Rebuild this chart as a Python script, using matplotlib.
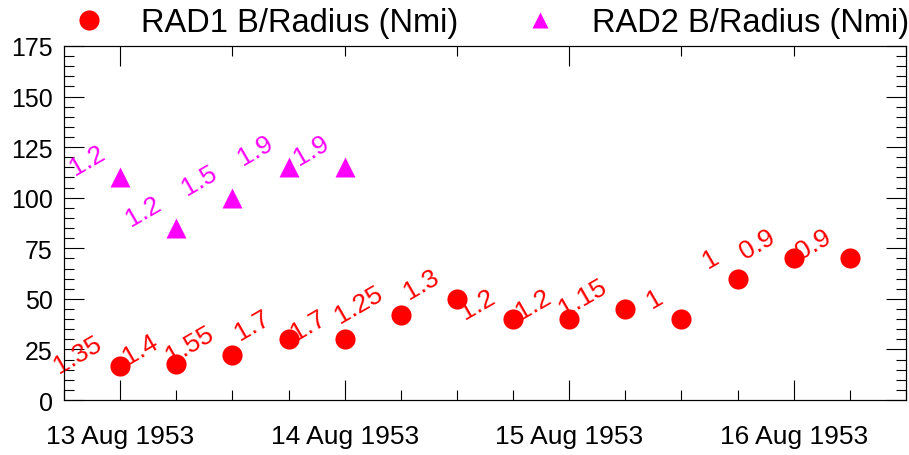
import matplotlib.pyplot as plt
import matplotlib.dates as mdates
from matplotlib.ticker import MultipleLocator
import pandas as pd

# observation times (6-hourly)
times = ['1953-08-13 00:00', '1953-08-13 06:00', '1953-08-13 12:00', '1953-08-13 18:00',
         '1953-08-14 00:00', '1953-08-14 06:00', '1953-08-14 12:00', '1953-08-14 18:00',
         '1953-08-15 00:00', '1953-08-15 06:00', '1953-08-15 12:00', '1953-08-15 18:00',
         '1953-08-16 00:00', '1953-08-16 06:00']
rad1 = [17, 18, 22, 30, 30, 42, 50, 40, 40, 45, 40, 60, 70, 70]
rad1_labels = ['1.35', '1.4', '1.55', '1.7', '1.7', '1.25', '1.3',
               '1.2', '1.2', '1.15', '1', '1', '0.9', '0.9']
rad2_times = times[:5]
rad2 = [110, 85, 100, 115, 115]
rad2_labels = ['1.2', '1.2', '1.5', '1.9', '1.9']

plt.rcParams['font.family'] = 'Liberation Sans'

t1 = pd.to_datetime(times)
t2 = pd.to_datetime(rad2_times)

fig = plt.figure(figsize=(9.09, 4.56), dpi=100)
ax = fig.add_axes([0.0704, 0.1206, 0.9263, 0.7764])

ax.plot(t1, rad1, 'o', color='red', ms=14.5, mec='none', label='RAD1 B/Radius (Nmi)')
ax.plot(t2, rad2, '^', color='magenta', ms=14.5, mec='none', label='RAD2 B/Radius (Nmi)')

# rotated value labels
for x, y, s in zip(t1, rad1, rad1_labels):
    ax.annotate(s, (x, y), xytext=(-12, 13), textcoords='offset points',
                ha='right', va='baseline', rotation=30, rotation_mode='anchor',
                color='red', fontsize=19, fontweight='light')
for x, y, s in zip(t2, rad2, rad2_labels):
    ax.annotate(s, (x, y), xytext=(-10, 15), textcoords='offset points',
                ha='right', va='baseline', rotation=30, rotation_mode='anchor',
                color='magenta', fontsize=19, fontweight='light')

xmin = mdates.date2num(pd.Timestamp('1953-08-12 18:00'))
xmax = mdates.date2num(pd.Timestamp('1953-08-16 12:00'))
ax.set_xlim(xmin, xmax)
ax.set_ylim(0, 175)

ax.yaxis.set_major_locator(MultipleLocator(25))
ax.yaxis.set_minor_locator(MultipleLocator(5))
ax.xaxis.set_major_locator(mdates.DayLocator())
ax.xaxis.set_minor_locator(mdates.HourLocator(byhour=[0, 6, 12, 18]))
ax.xaxis.set_major_formatter(mdates.DateFormatter('%d %b %Y'))

ax.tick_params(which='both', direction='in', top=False, right=True, width=0.8, labelsize=18)
ax.tick_params(which='major', length=14.4)
ax.tick_params(which='minor', length=7.2)
ax.tick_params(axis='x', pad=17, labelsize=19)
ax.tick_params(axis='y', pad=8)
for sp in ax.spines.values():
    sp.set_linewidth(0.8)

# top axis has its own tick spacing
ax2 = ax.twiny()
ax2.set_xlim(xmin, xmax)
ax2.xaxis.set_major_locator(mdates.DayLocator(interval=2))
ax2.xaxis.set_minor_locator(mdates.HourLocator(byhour=[0, 12]))
ax2.tick_params(which='both', direction='in', labeltop=False, width=0.8)
ax2.tick_params(which='major', length=14.4)
ax2.tick_params(which='minor', length=7.2)

h, l = ax.get_legend_handles_labels()
leg = fig.legend(h, l, loc='center', bbox_to_anchor=(0.54, 0.948), ncol=2, frameon=False,
                 fontsize=23.5, numpoints=1, handlelength=1, handletextpad=1.1,
                 columnspacing=2.0, borderaxespad=0)
leg.legend_handles[1].set_markersize(12)

plt.savefig('out.png')
